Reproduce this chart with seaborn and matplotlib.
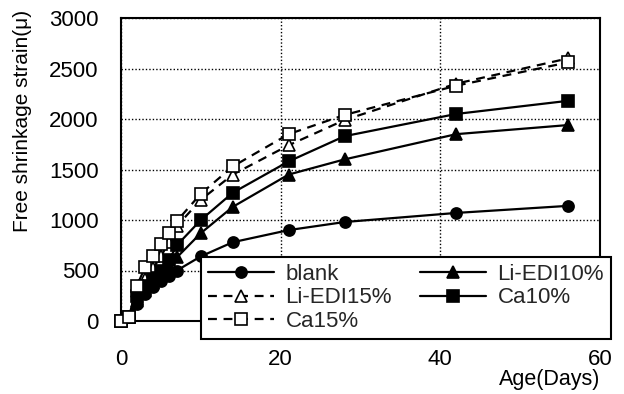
import matplotlib
matplotlib.use("Agg")
import matplotlib.pyplot as plt
import seaborn as sns
import pandas as pd

days = [0, 1, 2, 3, 4, 5, 6, 7, 10, 14, 21, 28, 42, 56]
blank = [0, 40, 170, 270, 340, 400, 450, 500, 640, 780, 900, 980, 1070, 1140]
li_edi10 = [0, 40, 200, 300, 380, 460, 540, 630, 870, 1130, 1450, 1600, 1850, 1940]
ca10 = [0, 40, 250, 350, 430, 500, 600, 750, 1000, 1270, 1580, 1830, 2050, 2180]
li_edi15 = [0, 40, 300, 420, 520, 640, 780, 940, 1200, 1450, 1740, 1990, 2350, 2600]
ca15 = [0, 40, 350, 530, 640, 760, 870, 990, 1260, 1530, 1850, 2040, 2330, 2560]

series_names = ["blank", "Li-EDI10%", "Li-EDI15%", "Ca10%", "Ca15%"]
series_values = [blank, li_edi10, li_edi15, ca10, ca15]

x_ticks = [0, 20, 40, 60]
y_ticks = [0, 500, 1000, 1500, 2000, 2500, 3000]

sns.set_theme(style="white")
plt.rcParams["font.family"] = ["Liberation Sans", "DejaVu Sans"]

fig = plt.figure(figsize=(6.24, 3.94), dpi=100)
ax = fig.add_axes([121 / 624, 1 - 321 / 394, (600 - 121) / 624, (321 - 18) / 394])

styles = {
    "blank": dict(marker="o", linestyle="-", mfc="black"),
    "Li-EDI10%": dict(marker="^", linestyle="-", mfc="black"),
    "Li-EDI15%": dict(marker="^", linestyle=(0, (4, 3)), mfc="white"),
    "Ca10%": dict(marker="s", linestyle="-", mfc="black"),
    "Ca15%": dict(marker="s", linestyle=(0, (4, 3)), mfc="white"),
}

handles = {}
for name, vals in zip(series_names, series_values):
    df = pd.DataFrame({"Age": days, "Strain": vals})
    st = styles[name]
    sns.lineplot(data=df, x="Age", y="Strain", ax=ax, color="black",
                 linewidth=1.6, linestyle=st["linestyle"], marker=st["marker"],
                 markersize=8, markerfacecolor=st["mfc"],
                 markeredgecolor="black", markeredgewidth=1.2,
                 clip_on=False, zorder=3, legend=False)
    handles[name] = ax.get_lines()[-1]

ax.set_xlim(0, 60)
ax.set_ylim(0, 3000)
ax.set_xticks(x_ticks)
ax.set_yticks(y_ticks)
ax.tick_params(axis="both", length=0, labelsize=16, colors="black")
ax.tick_params(axis="x", pad=20)
ax.tick_params(axis="y", pad=16)

ax.grid(True, color="black", linestyle=(0, (1, 1.5)), linewidth=1.0)
ax.set_axisbelow(True)
for s in ax.spines.values():
    s.set_color("black")
    s.set_linewidth(1.5)
    s.set_visible(True)

ax.set_xlabel("Age(Days)", fontsize=15.5, color="black", ha="right")
ax.xaxis.set_label_coords(1.0, -0.16)
ax.set_ylabel("Free shrinkage strain(μ)", fontsize=15, color="black")
ax.yaxis.set_label_coords(-0.186, 0.66)

order = ["blank", "Li-EDI15%", "Ca15%", "Li-EDI10%", "Ca10%"]
leg = fig.legend([handles[n] for n in order], order, ncol=2,
                 loc="upper left", bbox_to_anchor=(201 / 624, 1 - 257 / 394),
                 fontsize=16, frameon=True, fancybox=False,
                 edgecolor="black", framealpha=1, handlelength=3.0,
                 handletextpad=0.5, labelspacing=0.12, borderpad=0.3,
                 columnspacing=1.25, borderaxespad=0)
leg.get_frame().set_linewidth(1.5)

fig.savefig("out.png", dpi=100)
